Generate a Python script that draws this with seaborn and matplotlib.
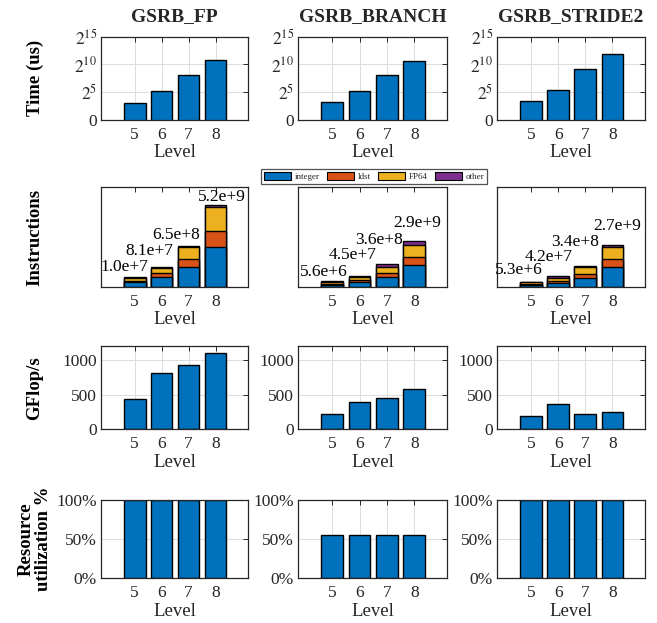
import numpy as np
import pandas as pd
import matplotlib
matplotlib.use("Agg")
import matplotlib.pyplot as plt
import matplotlib.transforms as mtransforms
from matplotlib.patches import Patch
import seaborn as sns

# ---- data ----
kernels = ["GSRB_FP", "GSRB_BRANCH", "GSRB_STRIDE2"]
levels = [5, 6, 7, 8]

time_fp = [8.6, 39.4, 265, 1783]
time_branch = [9.2, 39.4, 274, 1663]
time_stride2 = [10.6, 42.2, 588, 3822]

inst_fp = [1.0e7, 8.1e7, 6.5e8, 5.2e9]
inst_branch = [5.6e6, 4.5e7, 3.6e8, 2.9e9]
inst_stride2 = [5.3e6, 4.2e7, 3.4e8, 2.7e9]

inst_types = ["integer", "ldst", "FP64", "other"]
# share of each instruction type per level: [integer, ldst, FP64, other]
share_fp = [[0.48, 0.16, 0.26, 0.10], [0.47, 0.20, 0.27, 0.06],
            [0.50, 0.18, 0.29, 0.03], [0.49, 0.20, 0.29, 0.02]]
share_branch = [[0.40, 0.20, 0.25, 0.15], [0.42, 0.20, 0.25, 0.13],
                [0.46, 0.18, 0.25, 0.11], [0.48, 0.18, 0.27, 0.07]]
share_stride2 = [[0.40, 0.20, 0.25, 0.15], [0.42, 0.18, 0.28, 0.12],
                 [0.44, 0.16, 0.32, 0.08], [0.48, 0.19, 0.27, 0.06]]

gflops_fp = [437, 807, 931, 1095]
gflops_branch = [216, 398, 455, 576]
gflops_stride2 = [192, 365, 216, 254]

util_fp = [1.0, 1.0, 1.0, 1.0]
util_branch = [0.553, 0.553, 0.553, 0.553]
util_stride2 = [1.0, 1.0, 1.0, 1.0]

times = [time_fp, time_branch, time_stride2]
insts = [inst_fp, inst_branch, inst_stride2]
shares = [share_fp, share_branch, share_stride2]
gflops = [gflops_fp, gflops_branch, gflops_stride2]
utils = [util_fp, util_branch, util_stride2]

# ---- style ----
colors = ["#0072BD", "#D95319", "#EDB120", "#7E2F8E"]
dark = "#262626"

sns.set_style("white")
plt.rcParams["font.family"] = ["Liberation Serif", "DejaVu Serif"]
plt.rcParams["mathtext.fontset"] = "stix"
plt.rcParams["axes.edgecolor"] = dark
plt.rcParams["xtick.color"] = dark
plt.rcParams["ytick.color"] = dark

fig = plt.figure(figsize=(6.57, 6.23), dpi=100)
W, H = 657, 623

# axes boxes in pixels
cols = [(101, 248), (298, 447), (497, 645)]
rows = [(36.7, 120), (187, 287), (346, 429.3), (500, 578.3)]

# where the instruction-count labels sit (x offset from bar, y in axes fraction)
lab_dx = [[-0.37, -0.45, -0.48, 0.24], [-0.31, -0.25, -0.29, 0.10], [-0.44, -0.34, -0.37, 0.19]]
lab_y = [[0.197, 0.357, 0.517, 0.897], [0.15, 0.317, 0.467, 0.637], [0.165, 0.30, 0.445, 0.61]]


def make_ax(r, c):
    x0, x1 = cols[c]
    y0, y1 = rows[r]
    return fig.add_axes([x0 / W, 1 - y1 / H, (x1 - x0) / W, (y1 - y0) / H])


def finish(ax, grid=True):
    ax.set_xlim(-1.25, 4.2)
    ax.set_xlabel("Level", fontsize=13.5, color=dark, labelpad=1)
    ax.tick_params(direction="in", top=True, right=True, length=3.5, width=0.7,
                   labelsize=12.5, pad=5)
    ax.tick_params(axis="y", pad=3)
    for s in ax.spines.values():
        s.set_linewidth(0.9)
        s.set_color(dark)
    if grid:
        ax.grid(True, color="#dcdcdc", linewidth=0.7)
        ax.set_axisbelow(True)
    else:
        ax.grid(False)


def sci(v):
    e = int(np.floor(np.log10(v)))
    return f"{v / 10 ** e:.1f}e+{e}"


for c, name in enumerate(kernels):
    # time
    ax = make_ax(0, c)
    df = pd.DataFrame({"level": levels, "t": times[c]})
    sns.barplot(data=df, x="level", y="t", color=colors[0], saturation=1,
                edgecolor="black", linewidth=1, width=0.8, errorbar=None, ax=ax)
    ax.set_yscale("log", base=2)
    ax.set_ylim(1, 2 ** 15)
    ax.set_yticks([1, 2 ** 5, 2 ** 10, 2 ** 15])
    ax.set_yticklabels(["0", "$2^{5}$", "$2^{10}$", "$2^{15}$"])
    ax.minorticks_off()
    ax.set_ylabel("")
    finish(ax)
    ax.set_title(name, fontsize=14, fontweight="bold", pad=11)

    # instructions, stacked (drawn from tallest cumulative down)
    ax = make_ax(1, c)
    tot = np.array(insts[c])
    sh = np.array(shares[c])
    norm = tot / 4.0 ** np.array(levels)
    cum = np.cumsum(sh, axis=1) * norm[:, None]
    for k in range(len(inst_types) - 1, -1, -1):
        df = pd.DataFrame({"level": levels, "v": cum[:, k]})
        sns.barplot(data=df, x="level", y="v", color=colors[k], saturation=1,
                    edgecolor="black", linewidth=1, width=0.8, errorbar=None, ax=ax)
    ax.set_ylim(0, 9.7e4)
    ax.set_yticks([])
    ax.set_ylabel("")
    finish(ax, grid=False)
    trans = mtransforms.blended_transform_factory(ax.transData, ax.transAxes)
    for i, v in enumerate(tot):
        ax.text(i + lab_dx[c][i], lab_y[c][i], sci(v), transform=trans,
                ha="center", va="center", fontsize=12.5, color="black")

    # GFlop/s
    ax = make_ax(2, c)
    df = pd.DataFrame({"level": levels, "g": gflops[c]})
    sns.barplot(data=df, x="level", y="g", color=colors[0], saturation=1,
                edgecolor="black", linewidth=1, width=0.8, errorbar=None, ax=ax)
    ax.set_ylim(0, 1200)
    ax.set_yticks([0, 500, 1000])
    ax.set_ylabel("")
    finish(ax)

    # resource utilization
    ax = make_ax(3, c)
    df = pd.DataFrame({"level": levels, "u": utils[c]})
    sns.barplot(data=df, x="level", y="u", color=colors[0], saturation=1,
                edgecolor="black", linewidth=1, width=0.8, errorbar=None, ax=ax)
    ax.set_ylim(0, 1)
    ax.set_yticks([0, 0.5, 1])
    ax.set_yticklabels(["0%", "50%", "100%"])
    ax.set_ylabel("")
    finish(ax)

# row labels on the first column
ylabels = ["Time (us)", "Instructions", "GFlop/s", "Resource\nutilization %"]
for r, lab in enumerate(ylabels):
    y0, y1 = rows[r]
    fig.text(35 / W, 1 - (y0 + y1) / 2 / H, lab, rotation=90, ha="center", va="center",
             fontsize=13.5, fontweight="bold", color="black", linespacing=1.0)

handles = [Patch(facecolor=col, edgecolor="black", linewidth=0.8, label=t)
           for col, t in zip(colors, inst_types)]
leg = fig.legend(handles=handles, loc="center", bbox_to_anchor=(374 / W, 1 - 176.5 / H),
                 ncol=4, fontsize=6.5, frameon=True, fancybox=False, handlelength=3.0,
                 handleheight=0.9, columnspacing=0.8, handletextpad=0.4, borderpad=0.3,
                 borderaxespad=0)
leg.get_frame().set_edgecolor(dark)
leg.get_frame().set_linewidth(0.9)

fig.savefig("out.png", dpi=100)
